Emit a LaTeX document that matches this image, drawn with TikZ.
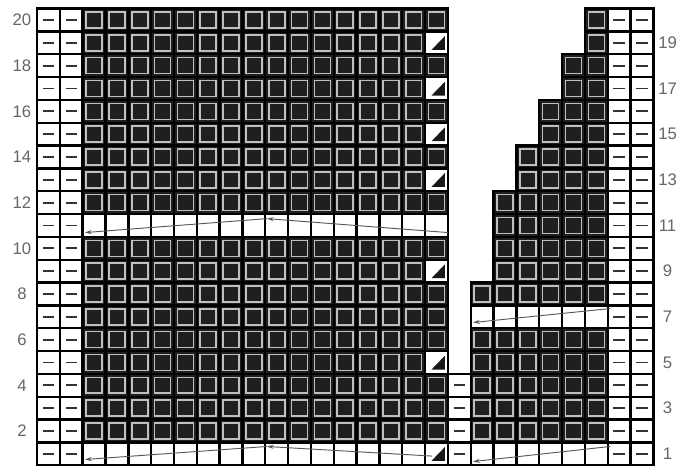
\documentclass[tikz,border=0pt]{standalone}
\usepackage{fontspec}
\newfontfamily\chartfont{Liberation Sans}
\usetikzlibrary{arrows.meta}

\begin{document}
\begin{tikzpicture}[x=0.6cm, y=0.6cm,
    knit/.style={fill=black!88},
    knitring/.style={draw=black!25, line width=1.2pt},
    blank/.style={fill=white},
    gridline/.style={draw=black, line width=1.8pt, line cap=rect, step=0.6cm},
    purlmark/.style={draw=black!80, line width=1.4pt},
    dectri/.style={fill=black!90},
    wrap/.style={draw=black!65, line width=0.7pt, -{Stealth[length=5pt,width=3pt]}},
    rownum/.style={font=\chartfont\fontsize{12.5}{14}\selectfont, text=black!60}]

    % MARGES DE LA IMATGE
    \useasboundingbox (-1.62,-0.02) rectangle (28.165,20.377);

    % PUNTS DEL DRET (bloc esquerre, columnes 3-18)
    \foreach \r in {1,...,20} {
        \foreach \c in {3,...,18} {
            \fill[knit] (\c-1,\r-1) rectangle (\c,\r);
            \draw[knitring] (\c-0.85,\r-0.85) rectangle (\c-0.15,\r-0.15);
        }
    }

    % PUNTS DEL DRET (bloc dret, en escala)
    \foreach \s/\a/\b in {20/1/8, 21/9/12, 22/13/14, 23/15/16, 24/17/18, 25/19/20} {
        \foreach \r in {\a,...,\b} {
            \foreach \c in {\s,...,25} {
                \fill[knit] (\c-1,\r-1) rectangle (\c,\r);
                \draw[knitring] (\c-0.85,\r-0.85) rectangle (\c-0.15,\r-0.15);
            }
        }
    }

    % FILERES CURTES (caselles buides)
    \fill[blank] (2,10) rectangle (18,11);
    \fill[blank] (2,0) rectangle (18,1);
    \fill[blank] (19,0) rectangle (25,1);
    \fill[blank] (19,6) rectangle (25,7);

    % DISMINUCIONS (triangle a la columna 18)
    \foreach \r in {1,5,9,13,15,17,19} {
        \fill[blank] (17,\r-1) rectangle (18,\r);
        \fill[dectri] (17.28,\r-0.81) -- (17.87,\r-0.81) -- (17.87,\r-0.2) -- cycle;
    }

    % PUNTS DEL REVÉS
    \foreach \c in {1,2,26,27} {
        \foreach \r in {1,...,20} {
            \fill[blank] (\c-1,\r-1) rectangle (\c,\r);
            \draw[purlmark] (\c-0.75,\r-0.5) -- (\c-0.25,\r-0.5);
        }
    }
    \foreach \r in {1,...,4} {
        \fill[blank] (18,\r-1) rectangle (19,\r);
        \draw[purlmark] (18.25,\r-0.5) -- (18.75,\r-0.5);
    }

    % QUADRÍCULA
    \draw[gridline] (0,0) grid (18,20);
    \draw[gridline] (18,0) grid (19,4);
    \draw[gridline] (25,0) grid (27,20);
    \foreach \s/\a/\b in {20/1/8, 21/9/12, 22/13/14, 23/15/16, 24/17/18, 25/19/20} {
        \draw[gridline] (\s-1,\a-1) grid (25,\b);
    }

    % FLETXES DE GIR
    \coordinate (r11e) at (18.0,10.19);
    \coordinate (r11m) at (10.07,10.8);
    \coordinate (r11w) at (2.1,10.19);
    \coordinate (r1e) at (17.3,0.4);
    \coordinate (r1m) at (10.07,0.82);
    \coordinate (r1w) at (2.1,0.25);
    \coordinate (r7e) at (25.1,6.86);
    \coordinate (r7w) at (19.1,6.25);
    \coordinate (q1e) at (25.1,0.82);
    \coordinate (q1w) at (19.1,0.16);
    \draw[wrap] (r11e) -- (r11m);
    \draw[wrap] (r11m) -- (r11w);
    \draw[wrap] (r1e) -- (r1m);
    \draw[wrap] (r1m) -- (r1w);
    \draw[wrap] (r7e) -- (r7w);
    \draw[wrap] (q1e) -- (q1w);

    % NUMERACIÓ DE FILERES
    \foreach \r in {2,4,...,20} {
        \node[rownum] (left\r) at (-0.66,\r-0.5) {\r};
    }
    \foreach \r in {1,3,...,19} {
        \node[rownum] (right\r) at (27.62,\r-0.5) {\r};
    }

\end{tikzpicture}
\end{document}
